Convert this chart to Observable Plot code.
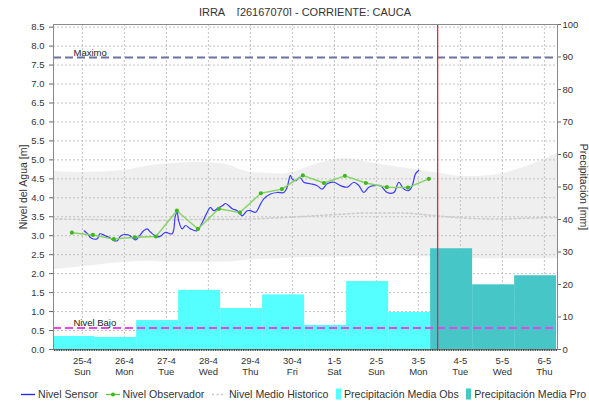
<!DOCTYPE html>
<html><head><meta charset="utf-8">
<script src="https://cdn.jsdelivr.net/npm/d3@7"></script>
<script src="https://cdn.jsdelivr.net/npm/@observablehq/plot@0.6"></script>
<style>
body{margin:0;background:#fff;}
#wrap{position:relative;width:589px;height:405px;overflow:hidden;font-family:"Liberation Sans",Arial,sans-serif;color:#333;}
#title{position:absolute;top:6px;left:53px;width:504px;text-align:center;font-size:11px;line-height:13px;white-space:pre;}
#chart{position:absolute;top:16px;left:0;}
#legend{position:absolute;top:387px;left:21px;height:14px;display:flex;align-items:center;font-size:10.6px;white-space:nowrap;}
#legend .it{display:flex;align-items:center;margin-right:7.5px;}
#legend svg{margin-right:3px;}
</style></head>
<body><div id="wrap">
<div id="title">IRRA    [26167070] - CORRIENTE: CAUCA</div>
<div id="chart"></div>
<div id="legend"></div>
</div>
<script>
// ---------- data ----------
const xDomain = ["2021-04-24T07:30", "2021-05-06T07:30"];
const dayTicks = ["2021-04-25","2021-04-26","2021-04-27","2021-04-28","2021-04-29","2021-04-30","2021-05-01","2021-05-02","2021-05-03","2021-05-04","2021-05-05","2021-05-06"];
const dayNames = ["Sun","Mon","Tue","Wed","Thu","Fri","Sat"];
const yMax = 8.57;          // left axis top (m)
const rMax = 100;           // right axis top (mm)
const yTicks = [0,0.5,1,1.5,2,2.5,3,3.5,4,4.5,5,5.5,6,6.5,7,7.5,8,8.5];
const rTicks = [0,10,20,30,40,50,60,70,80,90,100];

const sensorTimes = ["2021-04-25T01:00","2021-04-25T03:00","2021-04-25T05:00","2021-04-25T08:30","2021-04-25T10:00","2021-04-25T13:00","2021-04-25T16:00","2021-04-25T18:00","2021-04-25T20:00","2021-04-25T22:00",
"2021-04-26T01:30","2021-04-26T03:30","2021-04-26T06:20","2021-04-26T08:10","2021-04-26T11:00","2021-04-26T13:00","2021-04-26T15:00","2021-04-26T18:45","2021-04-26T20:40","2021-04-26T23:30",
"2021-04-27T03:20","2021-04-27T05:10","2021-04-27T06:10","2021-04-27T07:00","2021-04-27T09:00","2021-04-27T11:00","2021-04-27T13:45","2021-04-27T17:30","2021-04-27T20:30","2021-04-27T23:20",
"2021-04-28T01:10","2021-04-28T03:00","2021-04-28T05:00","2021-04-28T08:00","2021-04-28T09:50","2021-04-28T11:40","2021-04-28T13:40","2021-04-28T16:30","2021-04-28T19:20","2021-04-28T22:10",
"2021-04-29T00:00","2021-04-29T03:00","2021-04-29T05:50","2021-04-29T07:40","2021-04-29T11:30","2021-04-29T15:20","2021-04-29T19:10","2021-04-29T21:00","2021-04-29T22:50","2021-04-29T23:50",
"2021-04-30T01:50","2021-04-30T04:15","2021-04-30T06:30","2021-04-30T10:20","2021-04-30T14:10","2021-04-30T17:00","2021-04-30T19:50","2021-04-30T23:40",
"2021-05-01T03:30","2021-05-01T07:20","2021-05-01T11:10","2021-05-01T14:00","2021-05-01T16:50","2021-05-01T19:40","2021-05-01T22:30",
"2021-05-02T02:20","2021-05-02T06:10","2021-05-02T10:00","2021-05-02T12:50","2021-05-02T15:40","2021-05-02T18:30","2021-05-02T20:30","2021-05-02T22:20","2021-05-03T00:10"];
const sensorValues = [3.13,3.05,2.94,2.92,3.05,3.00,2.94,2.87,2.87,3.00,
3.03,2.99,2.89,2.97,3.13,3.18,3.09,2.97,2.99,3.09,
3.05,3.53,3.62,3.40,3.18,3.27,3.18,3.13,3.35,3.62,
3.75,3.66,3.71,3.79,3.85,3.79,3.71,3.66,3.53,3.66,
3.66,3.62,3.84,3.97,4.10,4.14,4.14,4.28,4.59,4.50,
4.45,4.54,4.41,4.37,4.32,4.23,4.37,4.41,
4.32,4.28,4.41,4.32,4.14,4.28,4.32,
4.32,4.14,4.14,4.41,4.23,4.19,4.32,4.63,4.72];

const obsTimes = ["2021-04-24T18:00","2021-04-25T06:00","2021-04-25T18:00","2021-04-26T06:00","2021-04-26T18:00","2021-04-27T06:00","2021-04-27T18:00","2021-04-28T06:00","2021-04-28T18:00","2021-04-29T06:00","2021-04-29T18:00","2021-04-30T06:00","2021-04-30T18:00","2021-05-01T06:00","2021-05-01T18:00","2021-05-02T06:00","2021-05-02T18:00","2021-05-03T06:00"];
const obsValues = [3.08,3.02,2.91,2.96,2.98,3.66,3.18,3.71,3.61,4.12,4.23,4.59,4.39,4.58,4.39,4.28,4.27,4.50];

const bandTimes = ["2021-04-24T06:00","2021-04-25T00:00","2021-04-26T00:00","2021-04-26T15:00","2021-04-27T00:00","2021-04-27T19:00","2021-04-28T09:00","2021-04-29T00:00","2021-04-29T19:00","2021-04-30T14:00","2021-05-01T05:00","2021-05-01T19:00","2021-05-02T14:00","2021-05-03T09:00","2021-05-04T04:00","2021-05-04T23:00","2021-05-05T12:00","2021-05-06T08:00"];
const bandHigh = [4.70,4.67,4.72,4.85,4.89,4.93,4.89,4.67,4.63,4.89,5.03,4.94,4.80,4.67,4.56,4.63,4.80,5.18];
const bandLow  = [2.10,2.18,2.30,2.33,2.30,2.30,2.30,2.36,2.40,2.43,2.44,2.46,2.47,2.43,2.40,2.39,2.39,2.39];
const meanHist = [3.44,3.43,3.41,3.40,3.41,3.43,3.43,3.44,3.48,3.53,3.57,3.60,3.60,3.53,3.46,3.44,3.46,3.48];

const precipObsDays = ["2021-04-24","2021-04-25","2021-04-26","2021-04-27","2021-04-28","2021-04-29","2021-04-30","2021-05-01","2021-05-02"];
const precipObs = [4.0,3.7,8.9,18.2,12.6,16.8,7.4,20.9,11.4];
const precipFcDays = ["2021-05-03","2021-05-04","2021-05-05"];
const precipFc = [31.0,19.9,22.7];
const precipDayStart = "T07:00";

const nivelMaximo = 7.7;
const nivelBajo = 0.565;
const nowTime = "2021-05-03T11:00";

// ---------- build ----------
const P = s => new Date(s + (s.length === 10 ? "T00:00Z" : "Z"));
const K = yMax / rMax;
const DAY = 864e5;
const sensor = sensorTimes.map((t,i)=>({t:P(t), v:sensorValues[i]}));
const obs = obsTimes.map((t,i)=>({t:P(t), v:obsValues[i]}));
const band = bandTimes.map((t,i)=>({t:P(t), hi:bandHigh[i], lo:bandLow[i], m:meanHist[i]}));
const mkBars = (days, vals) => days.map((d,i)=>{const a=P(d+precipDayStart); return {x1:a, x2:new Date(+a+DAY), v:vals[i]*K};});
const barsObs = mkBars(precipObsDays, precipObs);
const barsFc = mkBars(precipFcDays, precipFc);
const dom = xDomain.map(P);
const days = dayTicks.map(P);
const hours = d3.utcHour.range(dom[0], dom[1]);
const yT = yTicks;
const rT = rTicks.map(v=>v*K);
const grid = {stroke:"#c2c2c2", strokeOpacity:1, strokeDasharray:"2,2"};

const chart = Plot.plot({
  width: 589, height: 369,
  marginTop: 8, marginBottom: 36, marginLeft: 53, marginRight: 32,
  x: {type: "utc", domain: dom},
  y: {domain: [0, yMax]},
  style: {fontFamily: '"Liberation Sans", Arial, sans-serif', fontSize: "9.5px", color: "#333", background: "white"},
  marks: [
    Plot.areaY(band, {x:"t", y1:"lo", y2:"hi", fill:"#efefef", curve:"monotone-x", clip:true}),
    Plot.gridY(yT, grid),
    Plot.gridX(days, grid),
    Plot.line(band, {x:"t", y:"m", stroke:"#cdcdcd", strokeWidth:1.6, strokeDasharray:"2,2.5", curve:"monotone-x", clip:true}),
    Plot.rect(barsObs, {x1:"x1", x2:"x2", y1:0, y2:"v", fill:"#55ffff", clip:true}),
    Plot.rect(barsFc, {x1:"x1", x2:"x2", y1:0, y2:"v", fill:"#46c6c6", clip:true}),
    Plot.ruleY([nivelMaximo], {stroke:"#6a74a2", strokeWidth:2, strokeDasharray:"8,4"}),
    Plot.ruleY([nivelBajo], {stroke:"#e846e8", strokeWidth:2, strokeDasharray:"8,4"}),
    Plot.text([{v:nivelMaximo, t:"Maximo"}, {v:nivelBajo, t:"Nivel Bajo"}], {y:"v", text:"t", frameAnchor:"left", dx:20, dy:-5, textAnchor:"start", fill:"#222", fontSize:9.5}),
    Plot.line(sensor, {x:"t", y:"v", stroke:"#3c3cff", strokeWidth:1.2, curve:"catmull-rom"}),
    Plot.line(obs, {x:"t", y:"v", stroke:"#84d463", strokeWidth:1.4}),
    Plot.dot(obs, {x:"t", y:"v", r:2.1, fill:"#3fb81f", stroke:"none"}),
    Plot.ruleX([P(nowTime)], {stroke:"#ff2020", strokeWidth:1.3}),
    Plot.frame({stroke:"#8a8a8a"}),
    Plot.axisY(yT, {anchor:"left", tickFormat:d3.format(".1f"), tickSize:4, tickPadding:5, label:null, stroke:"#666"}),
    Plot.axisY(rT, {anchor:"right", tickFormat:d=>String(Math.round(d/K)), tickSize:3, tickPadding:2, label:null, stroke:"#666"}),
    Plot.axisX(hours, {tickSize:2, tickFormat:()=>"", label:null, stroke:"#444"}),
    Plot.axisX(days, {tickSize:0, tickPadding:6, lineHeight:1.23, label:null,
      tickFormat:d=>`${d.getUTCDate()}-${d.getUTCMonth()+1}\n${dayNames[d.getUTCDay()]}`}),
    Plot.text(["Nivel del Agua [m]"], {frameAnchor:"left", dx:-30, rotate:-90, textAnchor:"middle", lineAnchor:"middle", fontSize:10.5, fill:"#333"}),
    Plot.text(["Precipitación [mm]"], {frameAnchor:"right", dx:25.5, rotate:90, textAnchor:"middle", lineAnchor:"middle", fontSize:10.5, fill:"#333"})
  ]
});
document.getElementById("chart").appendChild(chart);

// ---------- legend ----------
const legendItems = [
  {name:"Nivel Sensor", kind:"line", color:"#2020ff"},
  {name:"Nivel Observador", kind:"dotline", color:"#5cc83a"},
  {name:"Nivel Medio Historico", kind:"dash", color:"#c8c8c8"},
  {name:"Precipitación Media Obs", kind:"box", color:"#55ffff"},
  {name:"Precipitación Media Pro", kind:"box", color:"#46c6c6"}
];
const lg = d3.select("#legend");
for (const it of legendItems) {
  const g = lg.append("div").attr("class","it");
  const w = it.kind === "box" ? 5 : 14;
  const s = g.append("svg").attr("width", w).attr("height", 12);
  if (it.kind === "box") s.append("rect").attr("x",0).attr("y",0.5).attr("width",5).attr("height",11).attr("fill",it.color);
  else {
    s.append("line").attr("x1",0).attr("x2",w).attr("y1",6.5).attr("y2",6.5).attr("stroke",it.color).attr("stroke-width", it.kind==="dash"?1.5:1.3).attr("stroke-dasharray", it.kind==="dash"?"2,2.5":null);
    if (it.kind === "dotline") s.append("circle").attr("cx",7).attr("cy",6.5).attr("r",2).attr("fill","#3fb81f");
  }
  g.append("span").text(it.name);
}
</script>
</body></html>
